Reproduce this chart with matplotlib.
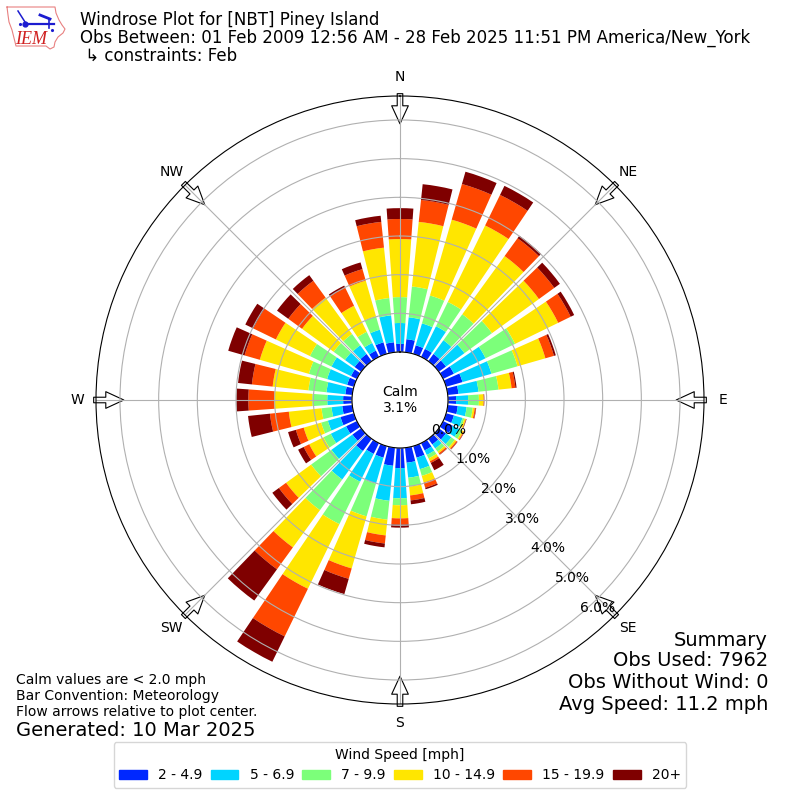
import numpy as np
import matplotlib
matplotlib.use("Agg")
import matplotlib.pyplot as plt
from matplotlib.patches import Patch

# percent of obs per direction (every 10 deg, from N, clockwise)
directions = np.arange(0, 360, 10)
speed_labels = ["2 - 4.9", "5 - 6.9", "7 - 9.9", "10 - 14.9", "15 - 19.9", "20+"]
colors = ["#0028ff", "#00d4ff", "#7cff7a", "#ffe600", "#ff4700", "#7f0000"]

bin_2_5 = [0.21, 0.34, 0.23, 0.23, 0.23, 0.23, 0.31, 0.44, 0.28, 0.21, 0.26, 0.21,
           0.28, 0.23, 0.18, 0.21, 0.31, 0.39, 0.52, 0.47, 0.31, 0.31, 0.39, 0.28,
           0.31, 0.36, 0.26, 0.23, 0.18, 0.18, 0.17, 0.21, 0.23, 0.18, 0.31, 0.26]
bin_5_7 = [0.54, 0.57, 0.59, 0.65, 0.44, 0.59, 0.91, 0.78, 0.52, 0.31, 0.23, 0.23,
           0.18, 0.17, 0.13, 0.13, 0.31, 0.39, 0.78, 0.91, 0.70, 0.80, 0.91, 0.67,
           0.44, 0.34, 0.28, 0.41, 0.49, 0.54, 0.56, 0.31, 0.28, 0.22, 0.34, 0.70]
bin_7_10 = [0.67, 0.80, 0.75, 0.70, 0.83, 0.88, 0.85, 0.70, 0.52, 0.28, 0.16, 0.05,
            0.09, 0.11, 0.10, 0.10, 0.18, 0.23, 0.18, 0.49, 0.88, 1.22, 0.98, 0.65,
            0.21, 0.18, 0.26, 0.39, 0.47, 0.49, 0.62, 0.36, 0.36, 0.32, 0.36, 0.45]
bin_10_15 = [1.50, 1.68, 2.04, 2.20, 1.86, 1.50, 1.24, 0.75, 0.34, 0.12, 0.05, 0.04,
             0.04, 0.05, 0.05, 0.08, 0.18, 0.23, 0.34, 0.41, 1.40, 1.86, 1.19, 0.80,
             0.41, 0.47, 0.85, 0.98, 0.93, 1.32, 0.98, 1.01, 1.16, 0.75, 0.96, 1.31]
bin_15_20 = [0.52, 0.57, 0.96, 0.88, 0.57, 0.49, 0.36, 0.23, 0.10, 0.01, 0.03, 0.01,
             0.02, 0.03, 0.04, 0.05, 0.14, 0.13, 0.16, 0.21, 0.28, 1.37, 0.70, 0.23,
             0.16, 0.21, 0.49, 0.67, 0.54, 0.41, 0.65, 0.44, 0.54, 0.52, 0.31, 0.67]
bin_20_up = [0.28, 0.41, 0.33, 0.26, 0.08, 0.18, 0.10, 0.05, 0.03, 0.01, 0.01, 0.01,
             0.01, 0.01, 0.01, 0.21, 0.04, 0.10, 0.08, 0.10, 0.41, 0.73, 1.00, 0.21,
             0.16, 0.21, 0.57, 0.31, 0.36, 0.44, 0.23, 0.36, 0.18, 0.06, 0.18, 0.16]

compass_labels = ["N", "NE", "E", "SE", "S", "SW", "W", "NW"]
compass_angles = [0, 45, 90, 135, 180, 225, 270, 315]
radial_ticks = [0, 1, 2, 3, 4, 5, 6]

title_lines = [
    "Windrose Plot for [NBT] Piney Island",
    "Obs Between: 01 Feb 2009 12:56 AM - 28 Feb 2025 11:51 PM America/New_York",
    " \u21b3 constraints: Feb",
]
note_lines = [
    "Calm values are < 2.0 mph",
    "Bar Convention: Meteorology",
    "Flow arrows relative to plot center.",
]
summary_lines = ["Summary", "Obs Used: 7962", "Obs Without Wind: 0", "Avg Speed: 11.2 mph"]


def draw_logo(fig):
    # small IEM badge, axes in pixels of the top left corner
    ax = fig.add_axes([0, 0.92, 0.1, 0.08])
    ax.set_xlim(0, 80)
    ax.set_ylim(64, 0)
    ax.axis("off")
    outline_x = [7, 55, 56, 59, 62, 65, 63, 58, 55, 54, 50, 46, 16, 14, 12, 9, 8, 7]
    outline_y = [7, 7, 13, 20, 25, 29, 33, 37, 42, 47, 49, 46, 46, 38, 30, 22, 15, 7]
    ax.plot(outline_x, outline_y, color="#e88080", lw=0.8)
    ax.plot([25, 54], [23.5, 23.5], color="#1c1cd0", lw=1.6)
    ax.plot([49, 49], [19, 28], color="#1c1cd0", lw=1.2)
    ax.plot([18, 25], [11, 22], color="#1c1cd0", lw=1.1)
    ax.plot([40, 50], [15, 19], color="#1c1cd0", lw=2.0)
    ax.plot([25], [23.5], "o", color="#1c1cd0", ms=3.5)
    ax.plot([20, 52], [24, 30], ".", color="#1c1cd0", ms=2.5)
    ax.text(15, 44, "IEM", color="#d02020", fontsize=13, style="italic",
            family="Liberation Serif")


def main():
    fig = plt.figure(figsize=(8, 8), dpi=100)
    ax = fig.add_axes([0.12, 0.12, 0.76, 0.76], polar=True)
    ax.set_theta_zero_location("N")
    ax.set_theta_direction(-1)

    theta = np.radians(directions)
    series = [bin_2_5, bin_5_7, bin_7_10, bin_10_15, bin_15_20, bin_20_up]
    base = np.zeros(len(directions))
    for values, color in zip(series, colors):
        ax.bar(theta, values, width=np.radians(8), bottom=base, color=color, linewidth=0)
        base += np.array(values)

    ax.set_rorigin(-1.241)
    ax.set_rmin(0)
    ax.set_rmax(6.62)
    ax.set_rgrids(radial_ticks, [f"{v:.1f}%" for v in radial_ticks])
    ax.set_rlabel_position(140)
    ax.set_thetagrids(compass_angles, compass_labels)
    ax.tick_params(axis="x", pad=3)
    ax.grid(True)

    # flow arrows on the rim, under the grid and the tick labels
    for angle in compass_angles:
        ax.annotate(
            "",
            xy=(np.radians(angle), 5.9),
            xytext=(np.radians(angle), 6.68),
            arrowprops=dict(facecolor="white", edgecolor="k", width=4, headwidth=12,
                            headlength=13, lw=0.8, shrink=0),
            annotation_clip=False,
            zorder=1.2,
        )

    ax.text(0.5, 0.5, "Calm\n3.1%", transform=ax.transAxes, ha="center", va="center", fontsize=10)

    for y, line in zip([20, 38, 56], title_lines):
        fig.text(0.1, 1 - y / 800, line, fontsize=12, va="center")
    for y, line in zip([680, 696, 712], note_lines):
        fig.text(0.02, 1 - y / 800, line, fontsize=10, va="center")
    fig.text(0.02, 1 - 730 / 800, "Generated: 10 Mar 2025", fontsize=14, va="center")
    for y, line in zip([640, 661, 683, 705], summary_lines):
        fig.text(0.96, 1 - y / 800, line, fontsize=14, ha="right", va="center")

    handles = [Patch(color=c, label=l) for c, l in zip(colors, speed_labels)]
    fig.legend(handles=handles, ncol=6, title="Wind Speed [mph]", fontsize=10,
               columnspacing=0.6, loc="center", bbox_to_anchor=(0.5, 1 - 765 / 800))

    draw_logo(fig)
    fig.savefig("out.png", dpi=100)
    plt.close(fig)


main()
